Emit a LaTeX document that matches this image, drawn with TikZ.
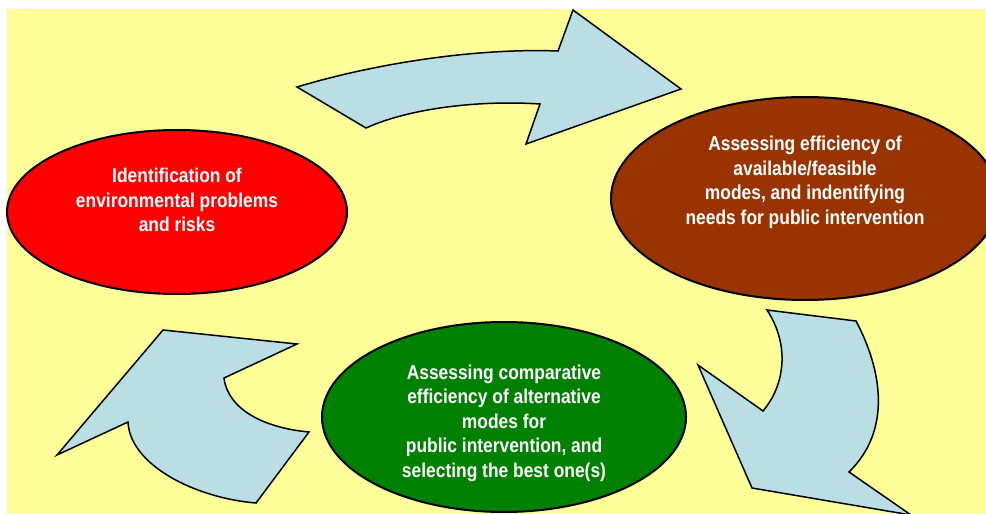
\documentclass[tikz,border=0pt]{standalone}
\usepackage{fontspec}
\newfontfamily\labelfont[FakeStretch=0.87]{Liberation Sans}
\usetikzlibrary{shapes.geometric,calc}
\definecolor{paleyellow}{HTML}{FFFF99}
\definecolor{arrowblue}{HTML}{B9DFE4}
\definecolor{brickred}{HTML}{993300}
\definecolor{leafgreen}{HTML}{008000}

\begin{document}
\begin{tikzpicture}[x=1pt,y=-1pt,
  stage/.style={ellipse,draw=black,line width=2pt,inner sep=0pt},
  stagetext/.style={text=white,align=center,
    font=\labelfont\bfseries\fontsize{20}{24.5}\selectfont},
  cyclearrow/.style={fill=arrowblue,draw=black,line width=1.5pt,line join=miter}]
  \useasboundingbox (0,0) rectangle (986,514);
  % Background
  \fill[paleyellow] (7,9) rectangle (986,514);
  % Top arrow
  \draw[cyclearrow] (297,87) .. controls (380,62) and (480,48) .. (558,51)
    -- (573,10) -- (681,89) -- (526,144) -- (540,104)
    .. controls (480,100) and (410,108) .. (366,128) -- cycle;
  % Right arrow
  \draw[cyclearrow] (767,310) -- (856,321)
    .. controls (882,370) and (892,430) .. (849,472)
    -- (911,515) -- (752,488) -- (698,365) -- (763,411)
    .. controls (785,385) and (790,345) .. (767,310) -- cycle;
  % Left arrow
  \draw[cyclearrow] (163,330) -- (297,344) -- (224,378)
    .. controls (228,410) and (265,428) .. (309,432)
    -- (256,503) .. controls (195,498) and (130,465) .. (128,422)
    -- (57,455) -- cycle;
  % Stages
  \node[stage,fill=red,minimum width=340pt,minimum height=164pt]
    (ident) at (177,212) {};
  \node[stage,fill=brickred,minimum width=388pt,minimum height=203pt]
    (assess) at (805,198.5) {};
  \node[stage,fill=leafgreen,minimum width=364pt,minimum height=190pt]
    (select) at (504,417) {};
  % Stage texts
  \node[stagetext] (identtext) at ($(ident.center)+(0,-12)$)
    {Identification of\\environmental problems\\and risks};
  \node[stagetext] (assesstext) at ($(assess.center)+(0,-16)$)
    {Assessing efficiency of\\available/feasible\\modes, and indentifying\\needs for public intervention};
  \node[stagetext] (selecttext) at ($(select.center)+(0,6)$)
    {Assessing comparative\\efficiency of alternative\\modes for\\public intervention, and\\selecting the best one(s)};
\end{tikzpicture}
\end{document}
